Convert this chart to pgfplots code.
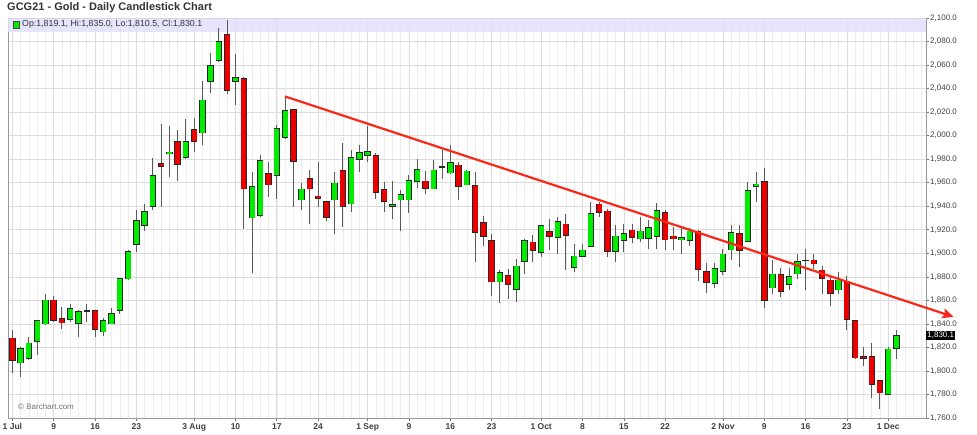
\documentclass[border=0pt]{standalone}
\usepackage{fontspec}
\setmainfont{Liberation Sans}
\usepackage{pgfplots}
\pgfplotsset{compat=1.18}
\usepackage{pgfplotstable}
\usetikzlibrary{arrows.meta}
\definecolor{cgreen}{RGB}{0,235,0}
\definecolor{cred}{RGB}{235,0,0}
\definecolor{tline}{RGB}{250,40,25}
\definecolor{band}{RGB}{224,224,250}
\definecolor{gridc}{RGB}{220,220,220}

% up days (close >= open)
\pgfplotstableread{
i open high low close
1 1807.0 1820.5 1795.0 1819.0
2 1810.6 1828.5 1809.2 1823.4
3 1825.6 1843.0 1813.5 1842.6
4 1840.3 1865.8 1838.9 1860.1
7 1844.0 1856.5 1841.8 1853.0
8 1840.4 1852.0 1828.5 1850.2
11 1833.3 1844.6 1829.6 1842.3
12 1840.3 1853.9 1839.8 1848.8
13 1851.7 1879.0 1848.8 1878.5
14 1878.5 1903.0 1877.1 1901.5
15 1907.7 1936.6 1901.2 1927.6
16 1923.9 1942.3 1919.0 1935.2
17 1939.9 1981.0 1937.2 1965.7
19 1984.6 2008.0 1964.9 1985.8
21 1982.0 2014.5 1980.4 1994.6
23 2002.5 2046.5 1991.7 2030.0
24 2046.3 2070.4 2036.4 2059.1
25 2063.9 2091.3 2062.5 2079.5
27 2046.4 2069.0 2025.7 2049.2
29 1930.3 1969.1 1883.6 1956.3
30 1932.3 1983.2 1930.9 1978.4
32 1966.3 2008.7 1946.5 2005.9
33 1998.8 2033.3 1997.4 2020.9
35 1945.6 1959.8 1936.5 1954.4
39 1945.6 1969.5 1916.7 1959.5
41 1942.3 1987.5 1935.2 1981.3
42 1979.9 1992.4 1969.1 1985.3
43 1983.3 2007.9 1977.6 1986.1
46 1940.0 1961.2 1929.5 1941.4
47 1945.7 1953.6 1919.1 1949.9
48 1945.7 1966.3 1934.3 1961.5
49 1961.2 1980.5 1955.8 1971.1
51 1955.0 1979.0 1954.4 1970.6
53 1968.6 1991.8 1967.7 1977.1
55 1958.4 1970.6 1957.8 1969.7
59 1875.8 1886.2 1857.9 1883.4
61 1869.5 1895.5 1858.7 1889.0
62 1893.2 1912.5 1882.8 1910.5
64 1901.2 1923.8 1896.9 1923.2
66 1913.9 1930.9 1899.8 1926.6
68 1888.4 1907.7 1884.2 1897.5
69 1897.5 1907.7 1896.9 1902.6
70 1906.0 1943.6 1905.4 1933.7
73 1902.0 1923.8 1892.7 1914.5
74 1911.0 1925.2 1901.2 1916.7
76 1912.5 1930.9 1909.7 1918.7
77 1913.0 1928.0 1904.0 1921.5
78 1914.5 1943.0 1904.0 1936.0
81 1911.7 1921.6 1899.8 1913.1
82 1911.1 1921.8 1906.0 1918.7
85 1874.9 1892.1 1870.9 1887.0
86 1885.0 1904.0 1881.4 1899.2
87 1903.2 1923.8 1894.7 1917.3
89 1910.5 1960.6 1909.7 1953.0
90 1957.2 1969.1 1943.6 1958.6
92 1870.9 1894.1 1865.2 1882.2
94 1873.7 1887.9 1868.6 1880.0
95 1882.8 1899.8 1878.5 1892.7
100 1869.2 1884.2 1865.8 1877.1
106 1780.3 1820.5 1779.5 1818.3
107 1819.1 1835.0 1810.5 1830.1
}\upcandles

% down days (close < open) and dojis
\pgfplotstableread{
i open high low close
0 1827.7 1834.7 1798.5 1809.2
5 1860.1 1864.0 1841.8 1843.2
6 1844.0 1854.5 1835.5 1841.0
9 1850.8 1856.5 1841.8 1850.8
10 1850.8 1851.5 1829.0 1835.5
18 1976.1 2010.0 1939.5 1973.9
20 1994.6 2005.0 1961.7 1975.8
22 2005.0 2015.3 1986.0 1995.4
26 2085.9 2098.4 2035.6 2038.4
28 2048.3 2049.7 1921.0 1955.0
31 1967.7 1977.6 1947.9 1958.3
34 2022.0 2023.0 1939.4 1978.1
36 1963.4 1971.1 1925.2 1955.0
37 1948.4 1977.6 1939.4 1947.0
38 1943.6 1944.0 1927.2 1930.9
40 1970.0 1994.0 1922.5 1940.0
44 1982.7 1985.3 1946.5 1952.2
45 1954.1 1960.7 1935.2 1944.5
50 1961.2 1969.7 1950.8 1955.6
52 1973.4 1987.5 1963.5 1973.4
54 1974.8 1977.6 1945.7 1957.0
56 1957.5 1969.1 1892.7 1918.2
57 1926.1 1931.5 1906.3 1914.8
58 1910.3 1916.8 1863.6 1875.8
60 1881.1 1887.0 1861.5 1873.7
63 1909.4 1915.3 1892.7 1902.6
65 1918.1 1928.9 1902.6 1914.7
67 1924.7 1933.7 1886.2 1915.3
71 1941.6 1943.6 1930.9 1935.1
72 1935.7 1938.0 1896.9 1901.7
75 1919.6 1925.2 1908.8 1913.9
79 1934.6 1936.5 1902.6 1911.6
80 1914.5 1922.4 1902.6 1912.5
83 1918.7 1919.6 1876.6 1886.5
84 1884.2 1892.1 1866.4 1875.2
88 1916.7 1923.8 1888.5 1902.6
91 1960.6 1972.8 1853.9 1860.2
93 1881.9 1887.9 1863.0 1868.1
96 1894.1 1904.0 1868.6 1894.1
97 1894.1 1899.2 1887.0 1891.3
98 1885.6 1889.3 1865.8 1879.1
99 1877.1 1880.0 1855.1 1866.4
101 1875.7 1880.5 1834.7 1844.0
102 1842.6 1843.0 1810.5 1811.2
103 1812.0 1820.5 1804.1 1810.9
104 1812.0 1823.4 1776.7 1788.5
105 1791.4 1792.2 1767.3 1781.5
}\downcandles

\pgfplotstableread{
i price
33 2033.3
113.9 1846.0
}\trend

\begin{document}
\begin{tikzpicture}
\path[use as bounding box] (0,0) rectangle (977pt,435pt);
\begin{axis}[
  at={(8pt,17pt)}, anchor=south west,
  scale only axis, width=918pt, height=400pt,
  xmin=-0.53, xmax=110.57, ymin=1760, ymax=2100,
  clip=false,
  axis line style={black!40, line width=0.8pt},
  xtick={0,5,10,15,22,27,32,37,43,48,53,58,64,69,74,79,86,91,96,101,106},
  xticklabels={1 Jul,9,16,23,3 Aug,10,17,24,1 Sep,9,16,23,1 Oct,8,15,22,2 Nov,9,16,23,1 Dec},
  minor xtick={0,...,110},
  ytick={1760,1780,...,2100},
  scaled y ticks=false,
  ytick pos=right, yticklabel pos=right,
  xtick pos=bottom,
  tick align=outside, major tick length=3pt, minor tick length=0pt,
  tick style={black!55, line width=0.6pt},
  grid=both,
  major grid style={gridc, line width=0.6pt},
  minor grid style={black!7, line width=0.5pt},
  yticklabel style={font=\fontsize{8}{9}\selectfont, text=black!75, anchor=west, inner sep=0pt, xshift=1pt,
    /pgf/number format/fixed, /pgf/number format/fixed zerofill, /pgf/number format/precision=1,
    /pgf/number format/1000 sep={,}, /pgf/number format/assume math mode=true},
  xticklabel style={font=\bfseries\fontsize{8.5}{10}\selectfont, text=black!75, anchor=north, inner sep=0pt, yshift=-2pt},
  candle/.style={draw=none, mark=none, forget plot,
    error bars/.cd, y dir=plus, y explicit, error mark=none},
]
\fill[band, opacity=0.85] (axis cs:-0.53,2088.5) rectangle (axis cs:110.57,2100);
% wicks
\addplot[candle, error bar style={draw=black!65, line width=1pt}]
  table[x=i, y=low, y error plus expr={\thisrow{high}-\thisrow{low}}] {\upcandles};
\addplot[candle, error bar style={draw=black!65, line width=1pt}]
  table[x=i, y=low, y error plus expr={\thisrow{high}-\thisrow{low}}] {\downcandles};
% body outlines
\addplot[candle, error bar style={draw=black!85, line width=6.4pt}]
  table[x=i, y expr={min(\thisrow{open},\thisrow{close})-0.6}, y error plus expr={abs(\thisrow{close}-\thisrow{open})+1.2}] {\upcandles};
\addplot[candle, error bar style={draw=black!85, line width=6.4pt}]
  table[x=i, y expr={min(\thisrow{open},\thisrow{close})-0.6}, y error plus expr={abs(\thisrow{close}-\thisrow{open})+1.2}] {\downcandles};
% body fills
\addplot[candle, error bar style={draw=cgreen, line width=5pt}]
  table[x=i, y expr={min(\thisrow{open},\thisrow{close})}, y error plus expr={abs(\thisrow{close}-\thisrow{open})}] {\upcandles};
\addplot[candle, error bar style={draw=cred, line width=5pt}]
  table[x=i, y expr={min(\thisrow{open},\thisrow{close})}, y error plus expr={abs(\thisrow{close}-\thisrow{open})}] {\downcandles};
% trend line
\addplot[tline, line width=2.2pt, mark=none, -{Stealth[length=11pt, width=10pt, inset=2pt]}] table[x=i, y=price] {\trend};
\node[fill=black, text=white, font=\fontsize{8}{9}\selectfont, inner sep=1.2pt, anchor=west] at (axis cs:110.57,1830.1) {1,830.1};
\end{axis}
\node[anchor=west, font=\bfseries\fontsize{11}{13}\selectfont, text=black!80, inner sep=0pt] at (7pt,427pt) {GCG21 - Gold - Daily Candlestick Chart};
\node[draw=black!70, fill=cgreen, minimum size=6.5pt, inner sep=0pt] at (16pt,410.5pt) {};
\node[anchor=west, font=\fontsize{8.8}{10}\selectfont, text=black!80, inner sep=0pt] at (22pt,410.5pt) {Op:1,819.1, Hi:1,835.0, Lo:1,810.5, Cl:1,830.1};
\node[anchor=west, font=\fontsize{8}{9}\selectfont, text=black!55, inner sep=0pt] at (18pt,28pt) {© Barchart.com};
\end{tikzpicture}
\end{document}
